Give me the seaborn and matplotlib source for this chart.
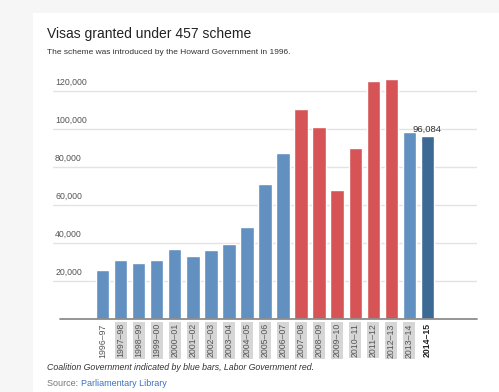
import numpy as np
import pandas as pd
import seaborn as sns
import matplotlib.pyplot as plt
from matplotlib.patches import Rectangle
import matplotlib.transforms as mtransforms

# DATA
years = ['1996–97', '1997–98', '1998–99', '1999–00', '2000–01', '2001–02', '2002–03',
         '2003–04', '2004–05', '2005–06', '2006–07', '2007–08', '2008–09', '2009–10',
         '2010–11', '2011–12', '2012–13', '2013–14', '2014–15']
visas = [25800, 31000, 29300, 31000, 36800, 33300, 36500, 39500, 48600, 71200,
         87400, 110700, 101000, 67900, 90200, 125100, 126200, 98600, 96084]
govt = ['C'] * 11 + ['L'] * 6 + ['C', 'C']
yticks = [20000, 40000, 60000, 80000, 100000, 120000]

BLUE = '#6190c1'
RED = '#d65456'
DARK = '#3d6a95'
colors = [BLUE if g == 'C' else RED for g in govt]
colors[-1] = DARK

df = pd.DataFrame({'YEAR': years, 'VISAS': visas})

sns.set_style('white')
plt.rcParams['font.family'] = ['Liberation Sans', 'DejaVu Sans']

W, H = 499, 392
fig = plt.figure(figsize=(W / 100, H / 100), dpi=100, facecolor='#f6f6f6')
# white card behind everything
fig.patches.append(Rectangle((33 / W, 0), 1 - 33 / W, (H - 13) / H,
                             transform=fig.transFigure, facecolor='white',
                             edgecolor='none', zorder=-5))

ax = fig.add_axes([53 / W, (H - 319) / H, (477 - 53) / W, (319 - 70) / H])
ax.set_facecolor('none')

sns.barplot(data=df, x='YEAR', y='VISAS', hue='YEAR', palette=colors,
            legend=False, width=0.74, saturation=1, ax=ax, zorder=3)

ax.set_xlim(-2.75, 20.75)
ax.set_ylim(0, 131000)
for s in ax.spines.values():
    s.set_visible(False)

# gridlines + labels sitting above them
trans = mtransforms.blended_transform_factory(ax.transAxes, ax.transData)
shift = mtransforms.ScaledTranslation(0, 4 / 100, fig.dpi_scale_trans)
for t in yticks:
    ax.axhline(t, color='#e3e3e3', lw=1, zorder=1)
    ax.text(0.005, t, f'{t:,}', transform=trans + shift, ha='left', va='bottom',
            fontsize=6.3, color='#555555')
ax.axhline(0, xmin=(60 - 53) / (477 - 53), color='#8c8c8c', lw=1.3, zorder=4,
           clip_on=False)

ax.set_yticks([])
ax.set_ylabel('')
ax.set_xlabel('')
ax.tick_params(axis='x', length=0, pad=3)
ax.set_xticks(range(len(years)))
ax.set_xticklabels(years, rotation=90, va='top', ha='center', fontsize=6.3,
                   color='#555555')
for i, lab in enumerate(ax.get_xticklabels()):
    if i == len(years) - 1:
        lab.set_color('#222222')
        lab.set_fontweight('bold')
    elif i > 0:
        lab.set_bbox(dict(facecolor='#d6d6d6', edgecolor='none', pad=1))

# value label on last bar
ax.annotate(f'{visas[-1]:,}', (len(years) - 1, visas[-1]), xytext=(0, 2),
            textcoords='offset points', ha='center', va='bottom',
            fontsize=6.8, color='#333333', zorder=5)

# titles and notes
fig.text(47 / W, 1 - 34 / H, 'Visas granted under 457 scheme', fontsize=10,
         color='#222222', va='center')
fig.text(47 / W, 1 - 53 / H, 'The scheme was introduced by the Howard Government in 1996.',
         fontsize=6, color='#333333', va='center')
fig.text(47 / W, 1 - 368 / H,
         'Coalition Government indicated by blue bars, Labor Government red.',
         fontsize=6.3, color='#333333', style='italic', va='center')
t1 = fig.text(47 / W, 1 - 384 / H, 'Source: ', fontsize=6.5, color='#777777', va='center')
fig.canvas.draw()
bb = t1.get_window_extent()
fig.text(bb.x1 / W, 1 - 384 / H, 'Parliamentary Library', fontsize=6.5,
         color='#3a72c4', va='center')

plt.savefig('out.png', dpi=100, facecolor=fig.get_facecolor())
